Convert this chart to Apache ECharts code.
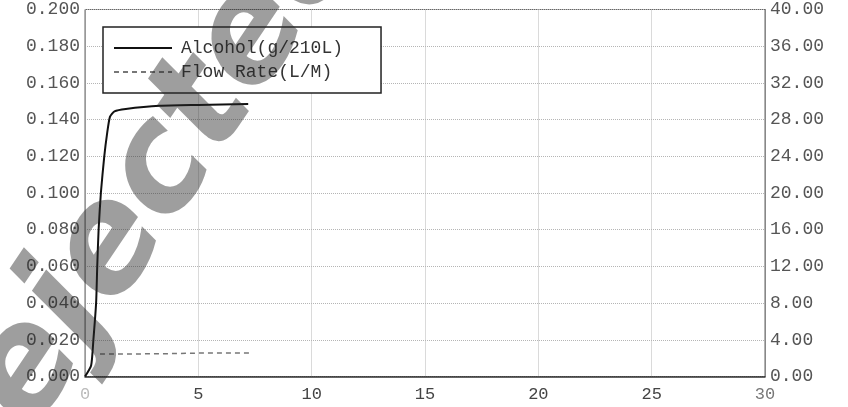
<!DOCTYPE html>
<html>
<head>
<meta charset="utf-8">
<script src="https://cdn.jsdelivr.net/npm/echarts@6/dist/echarts.min.js"></script>
<style>
html,body{margin:0;padding:0;background:#fff;}
#c{width:848px;height:407px;}
</style>
</head>
<body>
<div id="c"></div>
<script>
// Data
const alcoholTime = [0, 0.27, 0.37, 0.49, 0.54, 0.6, 0.7, 0.85, 0.97, 1.1, 1.3, 1.8, 3.3, 5, 7.2];
const alcoholValue = [0, 0.006, 0.02, 0.04, 0.06, 0.08, 0.1, 0.12, 0.132, 0.1415, 0.1445, 0.1458, 0.1475, 0.148, 0.1485];
const flowTime = [0.66, 2, 4, 5, 6, 7.3];
const flowValue = [2.45, 2.45, 2.5, 2.55, 2.55, 2.55];
const seriesNames = ['Alcohol(g/210L)', 'Flow Rate(L/M)'];
const watermarkText = 'Rejected';

const alcoholData = alcoholTime.map((t, i) => [t, alcoholValue[i]]);
const flowData = flowTime.map((t, i) => [t, flowValue[i]]);

const mono = 'Liberation Mono';
const chart = echarts.init(document.getElementById('c'), null, {renderer: 'canvas'});
chart.setOption({
  animation: false,
  backgroundColor: '#fff',
  grid: {left: 85, right: 83, top: 9.5, bottom: 30.5, show: true, borderColor: '#666', borderWidth: 1},
  legend: {
    orient: 'vertical', left: 103, top: 27,
    backgroundColor: '#fff', borderColor: '#222', borderWidth: 1.5, borderRadius: 0,
    padding: [12, 10, 12, 10],
    itemWidth: 58, itemHeight: 14, itemGap: 6,
    itemStyle: {opacity: 0},
    textStyle: {fontFamily: mono, fontSize: 18, color: '#333', lineHeight: 16, padding: [0, 28, 0, 4]},
    data: seriesNames
  },
  xAxis: {
    type: 'value', min: 0, max: 30, interval: 5,
    axisLine: {show: true, lineStyle: {color: '#333', width: 1.5}},
    axisTick: {show: false},
    splitLine: {show: true, lineStyle: {color: '#b5b5b5', type: 'dotted', width: 1}},
    axisLabel: {fontFamily: mono, fontSize: 17, margin: 9,
      color: function (v) { return Number(v) === 0 ? '#bbb' : (Number(v) === 30 ? '#777' : '#444'); }}
  },
  yAxis: [
    {
      type: 'value', min: 0, max: 0.2, interval: 0.02, position: 'left',
      axisLine: {show: true, lineStyle: {color: '#999', width: 1}},
      axisTick: {show: false},
      splitLine: {show: true, lineStyle: {color: '#b5b5b5', type: 'dotted', width: 1}},
      axisLabel: {fontFamily: mono, fontSize: 18, color: '#555', margin: 5,
        formatter: v => v.toFixed(3)}
    },
    {
      type: 'value', min: 0, max: 40, interval: 4, position: 'right',
      axisLine: {show: true, lineStyle: {color: '#888', width: 1}},
      axisTick: {show: false},
      splitLine: {show: false},
      axisLabel: {fontFamily: mono, fontSize: 18, color: '#555', margin: 5,
        formatter: v => v.toFixed(2)}
    }
  ],
  series: [
    {
      name: seriesNames[0], type: 'line', yAxisIndex: 0, data: alcoholData,
      symbol: 'none', smooth: 0.2,
      lineStyle: {color: '#111', width: 2}, itemStyle: {color: '#111'}
    },
    {
      name: seriesNames[1], type: 'line', yAxisIndex: 1, data: flowData,
      symbol: 'none',
      lineStyle: {color: '#777', width: 1.5, type: [5, 4]}, itemStyle: {color: '#777'}
    }
  ],
  graphic: [
    {
      type: 'text', z: 100, x: 140, y: 205, rotation: 56 * Math.PI / 180,
      style: {
        text: watermarkText, fontFamily: 'DejaVu Sans', fontStyle: 'italic', fontWeight: 'bold',
        fontSize: 145, fill: 'rgba(40,40,40,0.45)', align: 'center', verticalAlign: 'middle'
      }
    }
  ]
});
</script>
</body>
</html>
